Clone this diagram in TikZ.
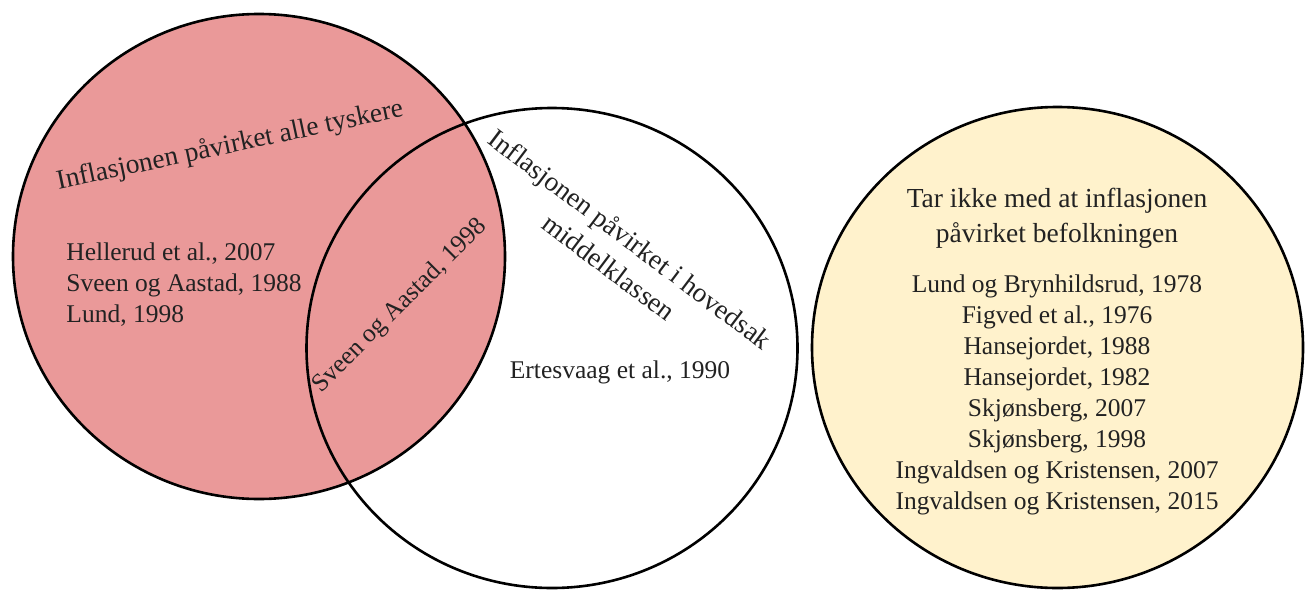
\documentclass[tikz,border=0pt]{standalone}
\usepackage{fontspec}
\setmainfont{Liberation Serif}
\definecolor{setred}{HTML}{EA9999}
\definecolor{setyellow}{HTML}{FFF2CC}
\definecolor{ink}{HTML}{222222}
\begin{document}
\begin{tikzpicture}[x=1pt,y=-1pt,
  ring/.style={draw=black,line width=2.6pt},
  headtext/.style={text=ink,font=\fontsize{27.5}{35}\selectfont,align=center,inner sep=0pt},
  listtext/.style={text=ink,font=\fontsize{25.5}{31}\selectfont,inner sep=0pt}]
  \useasboundingbox (0,0) rectangle (1313,589);

  % set centres
  \coordinate (all) at (259,256.5);
  \coordinate (mid) at (552,348);
  \coordinate (none) at (1057.5,347.5);

  % the three sets
  \fill[setred] (all) ellipse [x radius=246pt, y radius=242.5pt];
  \draw[ring] (all) ellipse [x radius=246pt, y radius=242.5pt];
  \draw[ring] (mid) ellipse [x radius=245.5pt, y radius=240pt];
  \fill[setyellow] (none) ellipse [x radius=245.5pt, y radius=240.5pt];
  \draw[ring] (none) ellipse [x radius=245.5pt, y radius=240.5pt];

  % labels of the sets
  \node[headtext,rotate=12] (allhead) at (230,146) {Inflasjonen påvirket alle tyskere};
  \node[headtext,rotate=-37] (midhead) at (620,253) {Inflasjonen påvirket i hovedsak\\middelklassen};
  \node[headtext] (nonehead) at (1057,218) {Tar ikke med at inflasjonen\\påvirket befolkningen};

  % references
  \node[listtext,align=left] (alllist) at (184,285) {Hellerud et al., 2007\\Sveen og Aastad, 1988\\Lund, 1998};
  \node[listtext,rotate=45] (both) at (400,306) {Sveen og Aastad, 1998};
  \node[listtext] (midlist) at (620,372) {Ertesvaag et al., 1990};
  \node[listtext,align=center] (nonelist) at (1057,395) {Lund og Brynhildsrud, 1978\\Figved et al., 1976\\Hansejordet, 1988\\Hansejordet, 1982\\Skjønsberg, 2007\\Skjønsberg, 1998\\Ingvaldsen og Kristensen, 2007\\Ingvaldsen og Kristensen, 2015};
\end{tikzpicture}
\end{document}
